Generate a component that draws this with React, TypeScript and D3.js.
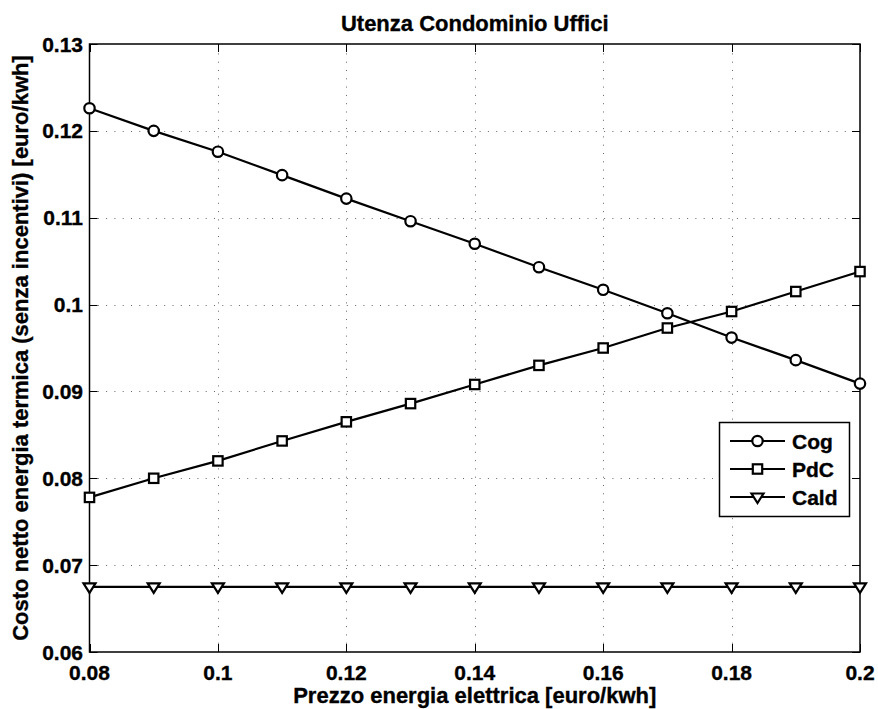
import React from "react";
import * as d3 from "d3";

const xValues = [0.08, 0.09, 0.1, 0.11, 0.12, 0.13, 0.14, 0.15, 0.16, 0.17, 0.18, 0.19, 0.2];
const cogValues = [0.1226, 0.1200, 0.1176, 0.1149, 0.1122, 0.1096, 0.1070, 0.1043, 0.1017, 0.0990, 0.0962, 0.0936, 0.0909];
const pdcValues = [0.0778, 0.0800, 0.0820, 0.0843, 0.0865, 0.0886, 0.0908, 0.0930, 0.0950, 0.0973, 0.0992, 0.1015, 0.1038];
const caldValues = [0.0675, 0.0675, 0.0675, 0.0675, 0.0675, 0.0675, 0.0675, 0.0675, 0.0675, 0.0675, 0.0675, 0.0675, 0.0675];
const xTicks = [0.08, 0.1, 0.12, 0.14, 0.16, 0.18, 0.2];
const xTickLabels = ["0.08", "0.1", "0.12", "0.14", "0.16", "0.18", "0.2"];
const yTicks = [0.06, 0.07, 0.08, 0.09, 0.1, 0.11, 0.12, 0.13];
const yTickLabels = ["0.06", "0.07", "0.08", "0.09", "0.1", "0.11", "0.12", "0.13"];
const seriesNames = ["Cog", "PdC", "Cald"];

const W = 878, H = 709;
const L = 89.5, R = 860, T = 44, B = 652;
const FONT = "Liberation Sans, Arial, Helvetica, sans-serif";

function Marker({ kind, x, y }: { kind: string; x: number; y: number }) {
  if (kind === "circle") return <circle cx={x} cy={y} r={5.2} fill="#fff" stroke="#000" strokeWidth={2.2} />;
  if (kind === "square") return <rect x={x - 4.7} y={y - 4.7} width={9.4} height={9.4} fill="#fff" stroke="#000" strokeWidth={2.2} />;
  return <path d={`M${x - 6},${y - 3.5}L${x + 6},${y - 3.5}L${x},${y + 6}Z`} fill="#fff" stroke="#000" strokeWidth={2.2} strokeLinejoin="miter" />;
}

export default function App() {
  const x = d3.scaleLinear().domain([0.08, 0.2]).range([L, R]);
  const y = d3.scaleLinear().domain([0.06, 0.13]).range([B, T]);
  const series = [
    { name: seriesNames[0], values: cogValues, kind: "circle" },
    { name: seriesNames[1], values: pdcValues, kind: "square" },
    { name: seriesNames[2], values: caldValues, kind: "triangle" },
  ];
  const line = d3.line<number>().x((_, i) => x(xValues[i])).y((v) => y(v));
  const tickLen = 8;
  const legX = 719.5, legY = 422.5, legW = 130, legH = 94;
  const rowY = [441, 469, 497];
  const textStroke = { stroke: "#000", strokeWidth: 0.35 };

  return (
    <svg width={W} height={H} style={{ position: "absolute", left: 0, top: 0, background: "#fff" }} fontFamily={FONT}>
      <rect x={0} y={0} width={W} height={H} fill="#fff" />
      {/* grid */}
      <g stroke="#666" strokeWidth={1} strokeDasharray="1,7.3">
        {xTicks.slice(1, -1).map((t) => (
          <line key={"gx" + t} x1={Math.round(x(t)) + 0.5} x2={Math.round(x(t)) + 0.5} y1={B} y2={T} />
        ))}
        {yTicks.slice(1, -1).map((t) => (
          <line key={"gy" + t} x1={L} x2={R} y1={Math.round(y(t)) + 0.5} y2={Math.round(y(t)) + 0.5} />
        ))}
      </g>
      {/* ticks */}
      <g stroke="#000" strokeWidth={1}>
        {xTicks.map((t) => {
          const px = Math.round(x(t)) + 0.5;
          return (
            <g key={"tx" + t}>
              <line x1={px} x2={px} y1={B} y2={B - tickLen} />
              <line x1={px} x2={px} y1={T} y2={T + tickLen} />
            </g>
          );
        })}
        {yTicks.map((t) => {
          const py = Math.round(y(t)) + 0.5;
          return (
            <g key={"ty" + t}>
              <line x1={L} x2={L + tickLen} y1={py} y2={py} />
              <line x1={R} x2={R - tickLen} y1={py} y2={py} />
            </g>
          );
        })}
      </g>
      {/* frame */}
      <rect x={L} y={T} width={R - L} height={B - T} fill="none" stroke="#000" strokeWidth={1.5} />
      {/* series */}
      {series.map((s) => (
        <g key={s.name}>
          <path d={line(s.values) || ""} fill="none" stroke="#000" strokeWidth={2.2} />
          {s.values.map((v, i) => (
            <Marker key={i} kind={s.kind} x={x(xValues[i])} y={y(v)} />
          ))}
        </g>
      ))}
      {/* tick labels */}
      <g fontSize={21} fontWeight="bold" fill="#000" {...textStroke}>
        {xTicks.map((t, i) => (
          <text key={"lx" + t} x={x(t)} y={680} textAnchor="middle">{xTickLabels[i]}</text>
        ))}
        {yTicks.map((t, i) => (
          <text key={"ly" + t} x={83} y={y(t) + 7.5} textAnchor="end">{yTickLabels[i]}</text>
        ))}
      </g>
      {/* title and labels */}
      <g fontWeight="bold" fontSize={22} fill="#000" {...textStroke}>
        <text x={(L + R) / 2} y={31} textAnchor="middle">Utenza Condominio Uffici</text>
        <text x={(L + R) / 2} y={703} textAnchor="middle">Prezzo energia elettrica [euro/kwh]</text>
        <text transform={`translate(28,${(T + B) / 2}) rotate(-90)`} textAnchor="middle">Costo netto energia termica (senza incentivi) [euro/kwh]</text>
      </g>
      {/* legend */}
      <rect x={legX} y={legY} width={legW} height={legH} fill="#fff" stroke="#000" strokeWidth={1.5} />
      {series.map((s, i) => (
        <g key={"leg" + s.name}>
          <line x1={730} x2={785} y1={rowY[i]} y2={rowY[i]} stroke="#000" strokeWidth={2.2} />
          <Marker kind={s.kind} x={757.5} y={rowY[i]} />
          <text x={792} y={rowY[i] + 7.5} fontSize={21} fontWeight="bold" {...textStroke}>{s.name}</text>
        </g>
      ))}
    </svg>
  );
}
